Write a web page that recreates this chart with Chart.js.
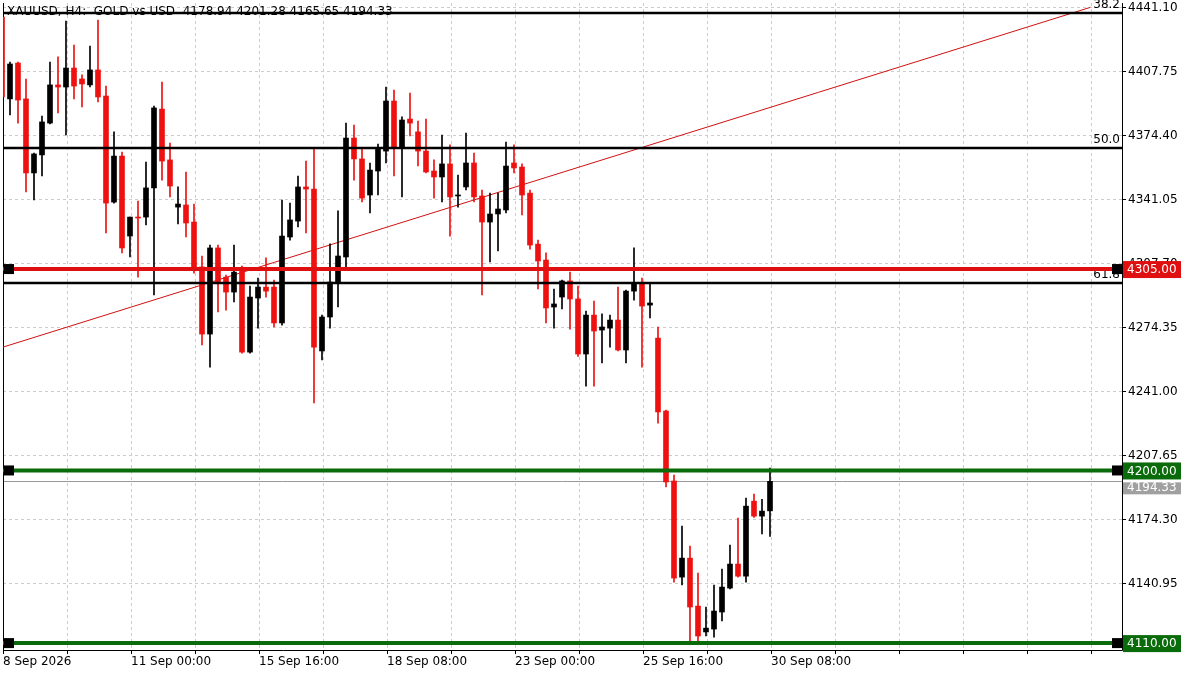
<!DOCTYPE html>
<html><head><meta charset="utf-8">
<script src="https://cdn.jsdelivr.net/npm/chart.js@4/dist/chart.umd.min.js"></script>
<style>html,body{margin:0;padding:0;background:#fff}#w{width:1200px;height:675px}</style>
</head><body><div id="w"><canvas id="c"></canvas></div>
<script>
const title = "XAUUSD, H4:  GOLD vs USD  4178.94 4201.28 4165.65 4194.33";
const xLabels = {0:"8 Sep 2026",16:"11 Sep 00:00",32:"15 Sep 16:00",48:"18 Sep 08:00",64:"23 Sep 00:00",80:"25 Sep 16:00",96:"30 Sep 08:00"};
const xGrid = [0,8,16,24,32,40,48,56,64,72,80,88,96,104,112,120,128,136];
const yTicks = [4441.10,4407.75,4374.40,4341.05,4307.70,4274.35,4241.00,4207.65,4174.30,4140.95,4110.00];
// candles [open, high, low, close]
const candles = [
[4436.4,4441.0,4394.0,4394.7],
[4393.7,4412.9,4385.3,4411.9],[4412.4,4412.9,4381.1,4393.1],[4393.7,4404.1,4345.2,4355.1],[4355.1,4365.5,4341.0,4365.0],
[4364.5,4384.8,4353.5,4381.7],[4381.1,4412.9,4380.6,4401.0],[4401.0,4415.6,4386.4,4399.9],[4399.9,4434.3,4374.9,4409.8],
[4409.8,4421.8,4393.7,4400.4],[4404.1,4406.2,4389.5,4401.5],[4401.0,4421.3,4399.9,4408.8],[4408.8,4434.8,4392.1,4394.7],
[4395.2,4400.4,4323.8,4339.4],[4339.9,4376.5,4339.4,4363.9],[4363.9,4366.0,4313.4,4316.0],[4322.2,4332.1,4311.3,4332.1],
[4332.1,4340.5,4300.8,4331.6],[4332.1,4360.8,4328.0,4347.3],[4347.3,4390.0,4291.5,4389.0],[4388.4,4402.5,4351.4,4361.3],
[4361.9,4370.7,4342.6,4348.3],[4337.3,4347.8,4328.5,4338.9],[4338.4,4355.6,4321.7,4329.0],[4329.5,4338.9,4302.9,4305.5],
[4306.1,4311.8,4265.4,4271.1],[4271.1,4317.5,4253.9,4316.0],[4316.0,4317.5,4282.6,4298.2],[4300.8,4301.9,4283.6,4293.0],
[4293.0,4317.5,4287.8,4303.4],[4305.5,4306.6,4261.2,4261.7],[4261.7,4296.1,4261.2,4290.4],[4289.9,4300.3,4274.2,4295.6],
[4295.6,4310.8,4290.4,4293.5],[4295.6,4299.3,4274.8,4276.9],[4276.9,4341.0,4275.8,4322.2],[4321.7,4339.4,4320.1,4330.6],
[4330.0,4353.5,4326.9,4347.8],[4347.8,4361.3,4323.8,4346.7],[4346.7,4367.6,4235.2,4264.3],[4262.3,4281.0,4257.6,4280.0],
[4280.0,4318.1,4274.2,4298.2],[4297.7,4335.3,4285.2,4311.8],[4311.3,4381.1,4306.1,4373.3],[4373.3,4380.1,4351.4,4362.4],
[4362.4,4367.6,4340.0,4342.0],[4343.6,4360.3,4334.2,4356.6],[4356.1,4370.2,4343.6,4367.6],[4366.5,4399.9,4360.3,4392.6],
[4392.6,4398.3,4353.5,4368.6],[4368.1,4384.3,4342.6,4382.7],[4383.2,4396.8,4374.4,4381.1],[4376.5,4382.2,4358.7,4366.5],
[4366.5,4383.2,4355.1,4355.6],[4356.1,4361.9,4342.0,4353.0],[4353.0,4374.9,4340.0,4359.8],[4359.8,4369.7,4322.2,4342.6],
[4343.1,4354.0,4337.3,4343.6],[4347.8,4375.9,4346.2,4360.3],[4360.3,4365.5,4340.0,4342.6],[4343.1,4346.2,4291.5,4329.5],
[4329.5,4344.6,4308.7,4333.7],[4333.7,4344.6,4314.4,4336.3],[4335.8,4371.2,4334.2,4358.7],[4360.3,4369.7,4355.1,4357.7],
[4358.2,4359.8,4333.2,4343.6],[4344.6,4346.2,4315.4,4317.5],[4318.0,4320.1,4294.6,4309.2],[4309.7,4313.4,4276.9,4284.7],
[4285.2,4294.6,4274.2,4286.8],[4290.4,4299.3,4284.2,4298.8],[4298.8,4303.4,4273.7,4289.4],[4289.4,4296.1,4259.5,4260.7],
[4260.7,4283.1,4244.0,4281.0],[4281.0,4288.3,4244.0,4272.7],[4273.2,4281.6,4256.0,4274.8],[4274.2,4281.0,4264.3,4278.4],
[4278.4,4295.6,4262.3,4262.8],[4262.8,4294.0,4256.0,4293.5],[4293.5,4316.0,4288.8,4297.7],[4297.7,4300.3,4253.9,4285.7],
[4286.2,4297.7,4279.5,4287.3],[4269.0,4274.8,4224.7,4230.5],[4231.0,4231.5,4191.4,4194.0],[4194.5,4197.6,4141.8,4143.9],
[4144.4,4171.0,4140.3,4154.3],[4154.3,4160.6,4110.0,4128.8],[4129.3,4146.5,4110.5,4113.7],[4115.8,4128.8,4113.7,4117.8],
[4117.3,4140.3,4113.1,4126.7],[4126.2,4148.6,4121.5,4139.2],[4138.7,4161.1,4138.2,4151.2],[4151.2,4175.2,4144.4,4144.9],
[4144.9,4185.6,4141.8,4181.4],[4184.0,4187.7,4175.5,4176.2],[4176.2,4185.0,4166.9,4178.8],[4178.94,4201.28,4165.65,4194.33]
];
const firstX = -0.125;
const fibLevels = [[4438.5,"38.2"],[4368.1,"50.0"],[4297.7,"61.8"]];
const redLevels = [4305.00];
const greenLevels = [4200.00,4110.00];
const lastPrice = 4194.33;
const trendX = [0,135.9];
const trendY = [4264.3,4441.4];

const RED='#ee1111', BLK='#000000';
const bodies = candles.map((c,i)=>({x:firstX+i,y:[c[0],c[3]]}));
const wicks = candles.map((c,i)=>({x:firstX+i,y:[c[2],c[1]]}));
const cols = candles.map(c=> c[3]>=c[0] ? BLK : RED);

const levels = {
  id:'levels',
  beforeDatasetsDraw(ch){
    const {ctx, chartArea:a, scales:{y}} = ch;
    ctx.save();
    ctx.strokeStyle='#999'; ctx.lineWidth=1;
    let py=Math.round(y.getPixelForValue(lastPrice))+0.5;
    ctx.beginPath();ctx.moveTo(a.left,py);ctx.lineTo(a.right,py);ctx.stroke();
    ctx.strokeStyle='#000';
    ctx.beginPath();ctx.moveTo(a.left+0.5,a.top);ctx.lineTo(a.left+0.5,a.bottom+0.5);ctx.lineTo(a.right+0.5,a.bottom+0.5);ctx.lineTo(a.right+0.5,a.top);ctx.stroke();
    ctx.restore();
  },
  afterDatasetsDraw(ch){
    const {ctx, chartArea:a, scales:{y}} = ch;
    ctx.save();
    ctx.font='12px "DejaVu Sans", sans-serif';
    ctx.fillStyle='#000';ctx.textAlign='left';ctx.textBaseline='middle';
    ctx.fillText(title,a.left+4,12);
    fibLevels.forEach(([v,t])=>{
      const py=y.getPixelForValue(v);
      ctx.strokeStyle='#000';ctx.lineWidth=2.5;
      ctx.beginPath();ctx.moveTo(a.left,py);ctx.lineTo(a.right,py);ctx.stroke();
      ctx.fillStyle='#000';ctx.textAlign='right';ctx.textBaseline='bottom';
      ctx.fillText(t,a.right-2,py-2);
    });
    const drawLvl=(v,color)=>{
      const py=y.getPixelForValue(v);
      ctx.strokeStyle=color;ctx.lineWidth=4;
      ctx.beginPath();ctx.moveTo(a.left,py);ctx.lineTo(a.right,py);ctx.stroke();
      ctx.fillStyle='#000';
      ctx.fillRect(a.left+1,py-5,10,10);ctx.fillRect(a.right-10,py-5,10,10);
      ctx.fillStyle=color;ctx.fillRect(a.right+1,py-8,58,17);
      ctx.fillStyle='#fff';ctx.textAlign='left';ctx.textBaseline='middle';
      ctx.fillText(v.toFixed(2),a.right+5,py+1);
    };
    redLevels.forEach(v=>drawLvl(v,'#e01010'));
    greenLevels.forEach(v=>drawLvl(v,'#0a6b0a'));
    const pl=y.getPixelForValue(lastPrice);
    ctx.fillStyle='#a0a0a0';ctx.fillRect(a.right+1,pl+1,58,12);
    ctx.fillStyle='#fff';ctx.textAlign='left';ctx.textBaseline='middle';
    ctx.fillText(lastPrice.toFixed(2),a.right+5,pl+7);
    ctx.restore();
  }
};

new Chart(document.getElementById('c'),{
  type:'bar',
  data:{datasets:[
    {type:'line',data:trendX.map((x,i)=>({x,y:trendY[i]})),borderColor:'#d01010',borderWidth:1,pointRadius:0,order:3},
    {data:wicks,backgroundColor:cols,barThickness:1,grouped:false,order:2},
    {data:bodies,backgroundColor:cols,barThickness:5,grouped:false,order:1,minBarLength:1}
  ]},
  options:{
    responsive:true,maintainAspectRatio:false,animation:false,
    layout:{padding:{left:3,top:3,right:0,bottom:0}},
    plugins:{legend:{display:false},tooltip:{enabled:false}},
    scales:{
      x:{type:'linear',min:0,max:139.875,offset:false,
        afterBuildTicks(s){s.ticks=xGrid.map(v=>({value:v}));},
        grid:{offset:false,color:'#cccccc',tickColor:'#000',tickLength:4},
        border:{display:false,dash:[3,3]},
        ticks:{autoSkip:false,maxRotation:0,align:'start',padding:1,color:'#000',
          font:{family:'"DejaVu Sans", sans-serif',size:12},
          callback:v=>xLabels[v]!==undefined?xLabels[v]:''},
        afterFit(s){s.height=25;s.paddingLeft=0;s.paddingRight=0;}
      },
      y:{position:'right',min:4106.4,max:4443.7,
        afterBuildTicks(s){s.ticks=yTicks.map(v=>({value:v}));},
        grid:{color:'#cccccc',tickColor:'#000',tickLength:4},
        border:{display:false,dash:[3,3]},
        ticks:{color:'#000',padding:2,font:{family:'"DejaVu Sans", sans-serif',size:12},callback:v=>v.toFixed(2)},
        afterFit(s){s.width=78;s.paddingTop=0;s.paddingBottom=0;}
      }
    }
  },
  plugins:[levels]
});
</script></body></html>
